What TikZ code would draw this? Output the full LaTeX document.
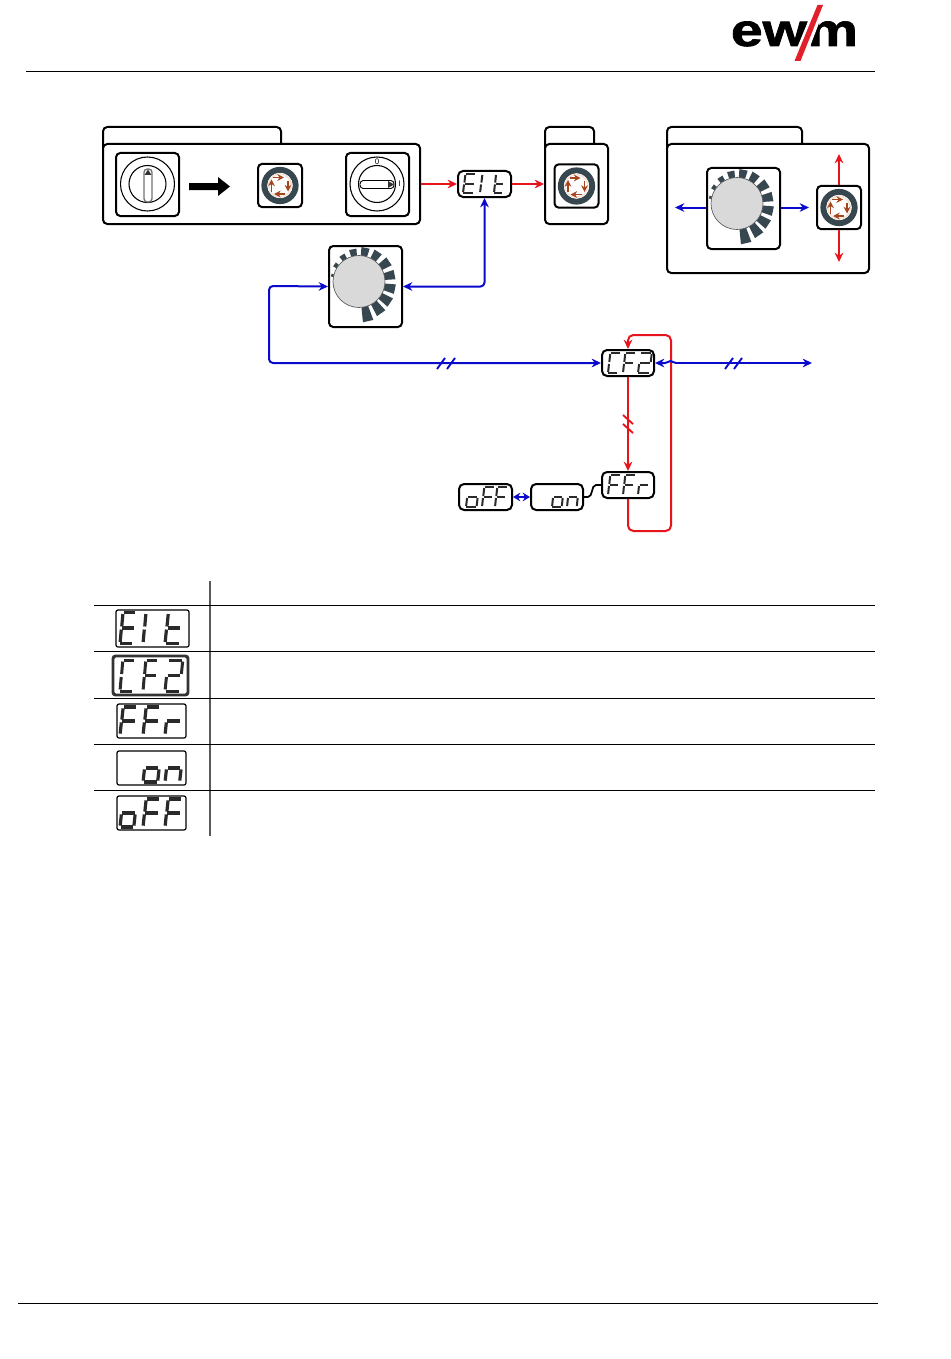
\documentclass[tikz,border=0pt]{standalone}
\usepackage{fontspec}
\setmainfont{Liberation Sans}
\usetikzlibrary{arrows.meta}
\definecolor{slate}{HTML}{37474F}
\definecolor{brownred}{HTML}{A5451F}
\definecolor{halo}{HTML}{F6E3D6}
\definecolor{myred}{HTML}{E8141C}
\definecolor{myblue}{HTML}{0A0ACD}
\definecolor{logored}{HTML}{E2202C}
\definecolor{segcol}{HTML}{2A2A2A}
\newcommand\sega{\draw (.24,0)--(.96,0);}
\newcommand\segb{\draw (.98,.05)--(.91,.45);}
\newcommand\segc{\draw (.89,.55)--(.82,.95);}
\newcommand\segd{\draw (.03,1)--(.77,1);}
\newcommand\sege{\draw (.01,.95)--(.08,.55);}
\newcommand\segf{\draw (.11,.45)--(.18,.05);}
\newcommand\segg{\draw (.14,.5)--(.86,.5);}
% left, top, width, height, line width, segments
\newcommand\sevseg[6]{\begin{scope}[shift={(#1,#2)},x=#3*.75pt,y=-#4*.75pt,line width=#5*.75pt,draw=segcol]
\foreach \s in {#6}{\csname seg\s\endcsname}\end{scope}}
% name, x1, y1, x2, y2, style
\newcommand\boxnode[6]{\node[#6,minimum width={(#4-#2)*.75pt},minimum height={(#5-#3)*.75pt}] (#1) at ({(#2+#4)/2},{(#3+#5)/2}) {};}
% name, cx, cy  : round button
\newcommand\squarebutton[3]{%
\node[framebox,minimum width=33pt,minimum height=32.5pt] (#1) at (#2,#3) {};
\begin{scope}[shift={(#2,#3)}]
\draw[slate,line width=4.5pt] (0,0) circle[radius=15.6];
\fill[white] (0,0) circle[radius=12.6];
\draw[halo,line width=1.2pt] (0,0) circle[radius=11.4];
\foreach \xa/\ya/\xb/\yb in {-7/-8/4/-8, 8/-5/8/6, 5/8.5/-6/8.5, -8.5/6/-8.5/-6}
  \draw[brownred,line width=1.4pt,-{Stealth[length=5pt,width=5pt]}] (\xa,\ya)--(\xb,\yb);
\end{scope}}
% name, left, top : dial box
\newcommand\dialbox[3]{%
\node[framebox,minimum width=54.75pt,minimum height=60.75pt,anchor=north west] (#1) at (#2,#3) {};
\begin{scope}[shift={(#2+31,#3+36.5)},y=.75pt]
\foreach \a/\L/\w in {-77/15/7.5,-55/13/7.5,-34/12/7.5,-12/11/7.5,11/10.5/7.5,34/10.5/7.5,57/9.5/7,79/8.5/7,101/7/6.5,123/5.5/5.5,145/4/4.5,167/2.5/3}
  \fill[slate] ({\a-\w}:26) -- ({\a-\w}:{26+\L}) -- ({\a+\w}:{26+\L}) -- ({\a+\w}:26) -- cycle;
\fill[fill=black!15,draw=black!65,line width=.5pt] (0,0) circle[radius=26];
\end{scope}}
\tikzset{
 framebox/.style={draw=black,line width=1.5pt,rounded corners=3.2pt,fill=white,inner sep=0pt},
 smalldisp/.style={draw=black,line width=1.5pt,rounded corners=3.8pt,fill=white,inner sep=0pt},
 bigdisp/.style={draw=black,line width=.9pt,rounded corners=1.5pt,fill=white,inner sep=0pt},
 bigdispthick/.style={draw=black!80,line width=2.2pt,rounded corners=2pt,fill=white,inner sep=0pt},
 tabline/.style={draw=black,line width=1.5pt,rounded corners=3.2pt},
 redline/.style={draw=myred,line width=1.5pt,-{Stealth[length=7pt,width=6.5pt]}},
 blueline/.style={draw=myblue,line width=1.5pt,-{Stealth[length=7pt,width=6.5pt]}},
 bluedouble/.style={draw=myblue,line width=1.5pt,{Stealth[length=7pt,width=6.5pt]}-{Stealth[length=7pt,width=6.5pt]}},
 blueshort/.style={draw=myblue,line width=1.5pt,{Stealth[length=5.5pt,width=6.5pt]}-{Stealth[length=5.5pt,width=6.5pt]}},
 rule/.style={draw=black,line width=.7pt},
 graphrule/.style={draw=black!65,line width=.9pt},
 brk/.style={line width=1.4pt},
 ring/.style={draw=black,line width=.8pt},
}
\begin{document}
\begin{tikzpicture}[x=.75pt,y=-.75pt]
\fill[white] (0,0) rectangle (950,1359);
\useasboundingbox (0,0) rectangle (950,1359);
% logo
\node[anchor=base,inner sep=0pt,text=black] (logotext) at (794.5,46) {\scalebox{1.1}[.88]{\fontsize{39}{39}\bfseries\addfontfeatures{FakeBold=1.5}\selectfont ewm}};
\fill[white] (816,2) -- (827,2) -- (803,65) -- (790,65) -- cycle;
\fill[logored] (817.5,5) -- (823,5) -- (800.5,61) -- (794.5,61) -- cycle;
% page rules
\draw[rule] (26,71) -- (875,71);
\draw[rule] (18,1303) -- (878,1303);
% panel 1
\draw[tabline] (103,150) -- (103,127) -- (281,127) -- (281,150);
\boxnode{panelA}{103}{144}{420}{224}{framebox}
\boxnode{switchL}{116}{153}{179}{216}{framebox}
\draw[ring] (147.5,184) circle[radius=27];
\draw[ring] (147.5,184) circle[radius=18.5];
\draw[draw=black!55,line width=1pt,rounded corners=2.5pt] (144,169) rectangle (152,202);
\fill[black!80] (148,169.5) -- (151.5,175) -- (144.5,175) -- cycle;
\fill[black] (189,183) -- (218,183) -- (218,177) -- (230,186.5) -- (218,196) -- (218,190) -- (189,190) -- cycle;
\squarebutton{btnA}{280}{185.5}
\boxnode{switchR}{346}{153}{409}{216}{framebox}
\draw[ring] (377,184) circle[radius=27];
\draw[ring] (377,184) circle[radius=18.5];
\draw[draw=black,line width=.7pt,rounded corners=2.5pt,fill=white] (360,180.5) rectangle (394,188.5);
\fill[black!80] (394,184.5) -- (388,181) -- (388,188) -- cycle;
\node[inner sep=0pt,font=\fontsize{6}{6}\selectfont,fill=white] (zeromark) at (377,161.5) {0};
\node[inner sep=0pt,font=\fontsize{6}{6}\selectfont] (onemark) at (399.5,184) {I};
% panel 2
\draw[tabline] (545,150) -- (545,127) -- (594,127) -- (594,150);
\boxnode{panelB}{545}{144}{608}{224}{framebox}
\squarebutton{btnB}{576.5}{186}
% panel 3
\draw[tabline] (667,150) -- (667,127) -- (802,127) -- (802,150);
\boxnode{panelC}{667}{144}{869}{273}{framebox}
\dialbox{dialC}{706}{167}
\squarebutton{btnC}{839}{207.5}
\coordinate (cLeft) at (675,207.5);
\coordinate (cRight) at (809,207.5);
\coordinate (cUp) at (839,154);
\coordinate (cDown) at (839,262);
\draw[blueline] (dialC.west |- cLeft) -- (cLeft);
\draw[blueline] (dialC.east |- cRight) -- (cRight);
\draw[redline] (btnC.north) -- (cUp);
\draw[redline] (btnC.south) -- (cDown);
% main dial
\dialbox{dialM}{328}{245}
% displays in the flow
\boxnode{elt}{458}{171}{511}{197}{smalldisp}
\sevseg{463}{174}{13}{19}{2}{a,d,e,f,g}
\sevseg{480}{174}{13}{19}{2}{e,f}
\sevseg{494}{174}{11}{19}{2}{d,e,f,g}
\boxnode{cftwo}{602}{350}{654}{376}{smalldisp}
\sevseg{608}{353}{12}{20}{2}{a,d,e,f}
\sevseg{623}{353}{12}{20}{2}{a,e,f,g}
\sevseg{638}{353}{14}{20}{2}{a,b,g,e,d}
\boxnode{ffr}{602}{472}{654}{498}{smalldisp}
\sevseg{608}{475}{12}{20}{2}{a,e,f,g}
\sevseg{623}{475}{12}{20}{2}{a,e,f,g}
\sevseg{638}{475}{12}{20}{2}{e,g}
\boxnode{onD}{531}{484}{583}{510}{smalldisp}
\sevseg{552}{487}{12}{20}{2}{c,d,e,g}
\sevseg{567}{487}{12}{20}{2}{c,e,g}
\boxnode{offD}{459}{484}{512}{510}{smalldisp}
\sevseg{466}{487}{13}{20}{2}{c,d,e,g}
\sevseg{482}{487}{12}{20}{2}{a,e,f,g}
\sevseg{495}{487}{12}{20}{2}{a,e,f,g}
% connectors
\draw[redline] (panelA) -- (elt);
\draw[redline] (elt) -- (panelB);
\draw[bluedouble,rounded corners=3pt] (elt.south) |- (dialM.east);
\coordinate (cA) at (269,286);
\coordinate (cB) at (269,363);
\draw[bluedouble,rounded corners=3pt] (dialM.west) -- (cA) -- (cB) -- (cftwo.west);
\draw[draw=myblue,brk] (437,369) -- (445,358);
\draw[draw=myblue,brk] (447,369) -- (455,358);
\coordinate (rA) at (628,531);
\coordinate (rB) at (671,531);
\coordinate (rC) at (671,335);
\coordinate (rD) at (628,335);
\draw[redline,rounded corners=4pt] (ffr.south) -- (rA) -- (rB) -- (rC) -- (rD) -- (cftwo.north);
\draw[redline] (cftwo.south) -- (ffr.north);
\draw[draw=myred,brk] (623,415) -- (633,424);
\draw[draw=myred,brk] (623,424) -- (633,433);
\coordinate (cE) at (812,363);
\draw[blueline] (676,363) .. controls (673,363) and (673,361) .. (670.5,361) .. controls (668,361) and (668,363) .. (665,363) -- (cftwo.east);
\draw[blueline] (676,363) -- (cE);
\draw[draw=myblue,brk] (725,369) -- (733,358);
\draw[draw=myblue,brk] (734,369) -- (742,358);
\draw[blueshort] (offD) -- (onD);
\draw[draw=black,line width=1.3pt] (onD.east) -- (588,497) .. controls (593,497) and (591,485) .. (596,485) -- (ffr.west);
% table
\draw[graphrule] (210,581) -- (210,836);
\foreach \yy in {605,651,698,744,790} \draw[rule] (94,\yy) -- (875,\yy);
\boxnode{tE}{116}{610}{189}{647}{bigdisp}
\sevseg{120}{612.5}{16}{31}{3.2}{a,d,e,f,g}
\sevseg{143}{612.5}{16}{31}{3.2}{e,f}
\sevseg{165}{612.5}{18}{31}{3.2}{d,e,f,g}
\boxnode{tC}{113}{656}{188}{695}{bigdispthick}
\sevseg{120}{660}{15}{31}{3}{a,d,e,f}
\sevseg{143}{660}{15}{31}{3}{a,e,f,g}
\sevseg{165}{660}{18}{31}{3}{a,b,g,e,d}
\boxnode{tF}{117}{704}{186}{738}{bigdisp}
\sevseg{120}{707}{17}{28}{3.2}{a,e,f,g}
\sevseg{143}{707}{17}{28}{3.2}{a,e,f,g}
\sevseg{165}{707}{17}{28}{3.2}{e,g}
\boxnode{tO}{117}{751}{186}{785}{bigdisp}
\sevseg{143}{754}{18}{28}{3.2}{c,d,e,g}
\sevseg{165}{754}{18}{28}{3.2}{c,e,g}
\boxnode{tN}{117}{796}{186}{830}{bigdisp}
\sevseg{120}{799}{17}{28}{3.2}{c,d,e,g}
\sevseg{143}{799}{17}{28}{3.2}{a,e,f,g}
\sevseg{165}{799}{17}{28}{3.2}{a,e,f,g}
\end{tikzpicture}
\end{document}
